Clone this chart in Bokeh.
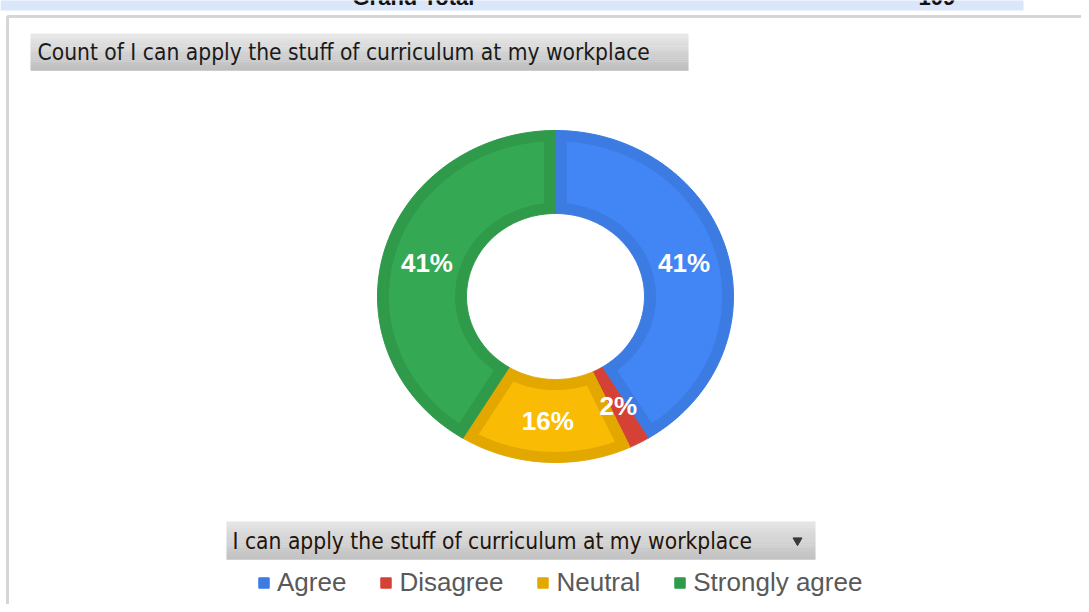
import numpy as np
from bokeh.plotting import figure
from bokeh.models import Range1d, ColumnDataSource, Legend, LegendItem
from bokeh.core.properties import value
from bokeh.embed import file_html
from bokeh.resources import INLINE

# ---- data ----
categories = ["Agree", "Disagree", "Neutral", "Strongly agree"]
counts = [45, 2, 17, 45]
grand_total_label = "Grand Total"
grand_total = 109
chart_title = "Count of I can apply the stuff of curriculum at my workplace"
field_name = "I can apply the stuff of curriculum at my workplace"

# ---- styles ----
fill_colors = ["#4285F4", "#DB4437", "#FABB05", "#34A853"]
edge_colors = ["#3B7BE2", "#D54135", "#E2A800", "#2F9A4A"]
ARIAL = "Liberation Sans"
TAHOMA = "DejaVu Sans Condensed"

W, H = 1081, 604
p = figure(width=W, height=H, x_range=Range1d(0, W), y_range=Range1d(H, 0),
           output_backend="svg", toolbar_location=None, min_border=0,
           x_axis_location=None, y_axis_location=None,
           outline_line_color=None, background_fill_color="white",
           border_fill_color="white")
p.grid.visible = False

# top strip of the pivot table (cut off by the top edge, as in the screenshot)
p.quad(left=[0], right=[1023], top=[-5], bottom=[10], fill_color="#DAE6F9", line_color=None)
p.text(x=[352], y=[-3], text=[grand_total_label], text_font=value(ARIAL), text_font_style="bold",
       text_font_size="22px", text_color="#111111", text_baseline="alphabetic")
p.text(x=[918], y=[-3], text=[str(grand_total)], text_font=value(ARIAL), text_font_style="bold",
       text_font_size="22px", text_color="#111111", text_baseline="alphabetic")

# chart area border
p.quad(left=[7], right=[1110], top=[16], bottom=[640], fill_color="white",
       line_color="#D6D6D6", line_width=3)


def gradient_box(x0, x1, y0, y1, c_top, c_bot, n=20):
    ct = np.array([int(c_top[i:i + 2], 16) for i in (1, 3, 5)], float)
    cb = np.array([int(c_bot[i:i + 2], 16) for i in (1, 3, 5)], float)
    edges = np.linspace(y0, y1, n + 1)
    cols = []
    for k in range(n):
        t = k / (n - 1)
        c = ct * (1 - t) + cb * t
        cols.append("#%02x%02x%02x" % tuple(int(round(v)) for v in c))
    p.quad(left=[x0] * n, right=[x1] * n, top=list(edges[:-1]), bottom=list(edges[1:] + 0.3),
           fill_color=cols, line_color=None)


# title button
gradient_box(30, 688, 33, 70, "#E8E8E8", "#BEBEBE")
p.text(x=[37], y=[51.5], text=[chart_title], text_font=value(TAHOMA), text_font_size="22.6px",
       text_color="#1a1a1a", text_baseline="middle")

# legend field button
gradient_box(226, 815, 521, 559, "#E4E4E4", "#C2C2C2")
p.text(x=[232], y=[540], text=[field_name], text_font=value(TAHOMA), text_font_size="22.6px",
       text_color="#23140a", text_baseline="middle")
p.scatter(x=[797], y=[540], marker="inverted_triangle", size=9, color="#3a3a3a")

# ---- donut ----
cx, cy, rx, ry = 555, 296, 178, 166
r_in = 0.5
inset = 0.064
total = sum(counts)
frac = np.array(counts, float) / total
ends = np.cumsum(frac) * 2 * np.pi
starts = ends - frac * 2 * np.pi


def to_xy(a, r):
    return cx + rx * r * np.sin(a), cy - ry * r * np.cos(a)


def ring(a0, a1, ro, ri, ao=0.0, ai=0.0):
    ta = np.linspace(a0 + ao, a1 - ao, 80)
    tb = np.linspace(a1 - ai, a0 + ai, 80)
    xo, yo = to_xy(ta, ro)
    xi, yi = to_xy(tb, ri)
    return list(np.concatenate([xo, xi])), list(np.concatenate([yo, yi]))


oxs, oys = [], []
ixs, iys, icol = [], [], []
for a0, a1, fc in zip(starts, ends, fill_colors):
    x, y = ring(a0, a1, 1.0, r_in)
    oxs.append(x)
    oys.append(y)
    ro2, ri2 = 1 - inset, r_in + inset
    ao, ai = np.arcsin(inset / ro2), np.arcsin(inset / ri2)
    if a1 - a0 > 2 * ai + 0.01:
        x, y = ring(a0, a1, ro2, ri2, ao, ai)
        ixs.append(x)
        iys.append(y)
        icol.append(fc)

outer_src = ColumnDataSource(dict(xs=oxs, ys=oys, edge=edge_colors, cat=categories))
outer_r = p.patches("xs", "ys", source=outer_src, fill_color="edge", line_color="edge", line_width=1)
p.patches(xs=ixs, ys=iys, fill_color=icol, line_color=None)

mid = (starts + ends) / 2
lx, ly = to_xy(mid, 0.75)
labels = [f"{round(100 * c / total)}%" for c in counts]
p.text(x=list(lx), y=list(ly), text=labels, text_font=value(ARIAL), text_font_style="bold",
       text_font_size="26px", text_color="white", text_align="center", text_baseline="middle")

# ---- legend ----
items = [LegendItem(label=c, renderers=[outer_r], index=i) for i, c in enumerate(categories)]
legend = Legend(items=items, orientation="horizontal", location=(257, 6),
                glyph_width=13, glyph_height=13, label_standoff=7, spacing=33,
                padding=0, margin=0, background_fill_alpha=0, border_line_alpha=0,
                label_text_font=ARIAL, label_text_font_size="26px", label_text_color="#595959")
p.add_layout(legend, "center")

open("out.html", "w").write(file_html(p, INLINE))
